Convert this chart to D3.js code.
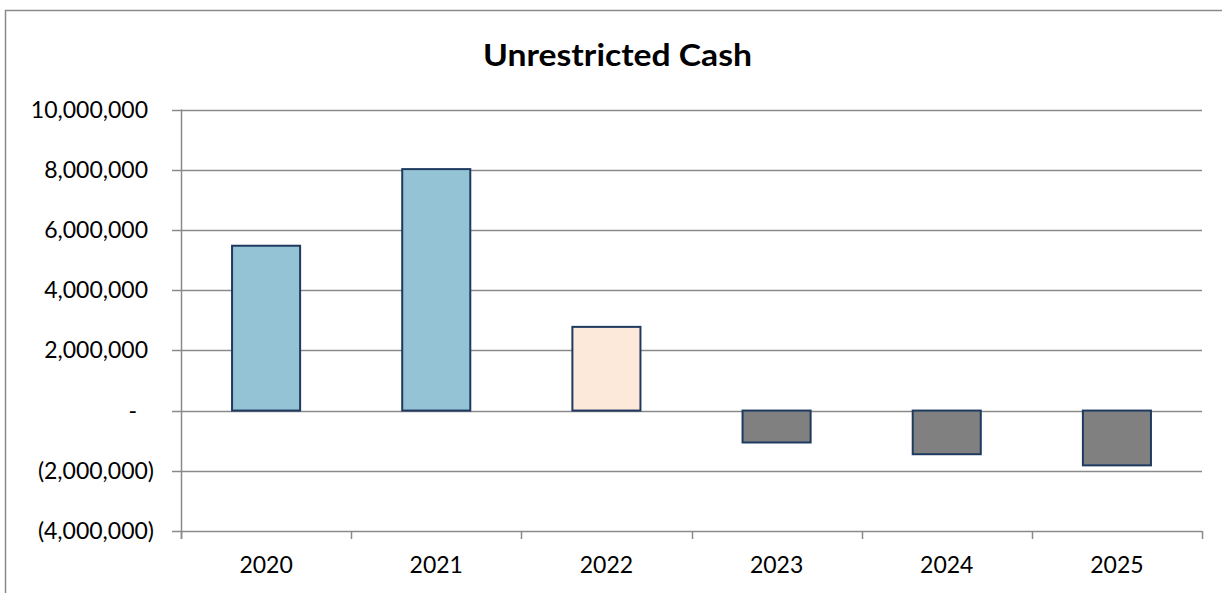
<!DOCTYPE html>
<html>
<head>
<meta charset="utf-8">
<script src="https://cdn.jsdelivr.net/npm/d3@7"></script>
<style>
  html, body { margin: 0; padding: 0; background: #fff; }
  svg { display: block; }
  text { font-family: Lato, "Open Sans", sans-serif; fill: #000; }
</style>
</head>
<body>
<svg id="chart" width="1222" height="593"></svg>
<script>
// Unrestricted cash by year
const years = ["2020", "2021", "2022", "2023", "2024", "2025"];
const cash = [5475000, 8020000, 2780000, -1060000, -1450000, -1820000];
const barColors = ["#93c3d4", "#93c3d4", "#fde9d9", "#808080", "#808080", "#808080"];
const yTicks = [-4000000, -2000000, 0, 2000000, 4000000, 6000000, 8000000, 10000000];

const svg = d3.select("#chart");
const plotLeft = 181, plotRight = 1202, plotTop = 109.5, plotBottom = 531;
const gridColor = "#8a8a8a";

// outer frame
svg.append("rect")
  .attr("x", 5.5).attr("y", 10.5)
  .attr("width", 1240).attr("height", 600)
  .attr("fill", "none").attr("stroke", "#8a8a8a").attr("stroke-width", 1.5);

// title
svg.append("text")
  .attr("x", 617.5).attr("y", 66)
  .attr("text-anchor", "middle")
  .attr("font-size", 31).attr("font-weight", "bold")
  .attr("textLength", 269).attr("lengthAdjust", "spacingAndGlyphs")
  .text("Unrestricted Cash");

const x = d3.scaleBand().domain(years).range([plotLeft, plotRight])
  .paddingInner(0.6).paddingOuter(0.3);
const y = d3.scaleLinear().domain([-4000000, 10000000]).range([plotBottom, plotTop]);

const fmt = d3.format(",");
function label(v) {
  if (v === 0) return "-";
  if (v < 0) return "(" + fmt(-v) + ")";
  return fmt(v);
}

// horizontal gridlines with short ticks on the left
svg.append("g").selectAll("line").data(yTicks).join("line")
  .attr("x1", plotLeft - 9).attr("x2", plotRight)
  .attr("y1", d => Math.round(y(d)) + 0.5).attr("y2", d => Math.round(y(d)) + 0.5)
  .attr("stroke", gridColor).attr("stroke-width", 1.5);

// y labels (positive values leave room for a closing paren)
svg.append("g").selectAll("text").data(yTicks).join("text")
  .attr("x", 154)
  .attr("dx", d => d === 0 ? -17 : (d > 0 ? -6 : 0))
  .attr("y", d => y(d) + 8)
  .attr("text-anchor", "end")
  .attr("font-size", 23)
  .text(label);

// vertical axis line
svg.append("line")
  .attr("x1", plotLeft + 0.5).attr("x2", plotLeft + 0.5)
  .attr("y1", plotTop).attr("y2", plotBottom + 8)
  .attr("stroke", gridColor).attr("stroke-width", 1.5);

// category boundary ticks
const bounds = d3.range(years.length + 1).map(i => plotLeft + i * x.step());
svg.append("g").selectAll("line").data(bounds).join("line")
  .attr("x1", d => Math.round(d) + 0.5).attr("x2", d => Math.round(d) + 0.5)
  .attr("y1", plotBottom).attr("y2", plotBottom + 8)
  .attr("stroke", gridColor).attr("stroke-width", 1.5);

// bars
svg.append("g").selectAll("rect").data(years).join("rect")
  .attr("x", d => x(d))
  .attr("width", x.bandwidth())
  .attr("y", (d, i) => y(Math.max(0, cash[i])))
  .attr("height", (d, i) => Math.abs(y(cash[i]) - y(0)))
  .attr("fill", (d, i) => barColors[i])
  .attr("stroke", "#1f3a60").attr("stroke-width", 2);

// x labels
svg.append("g").selectAll("text").data(years).join("text")
  .attr("x", d => x(d) + x.bandwidth() / 2)
  .attr("y", 573)
  .attr("text-anchor", "middle")
  .attr("font-size", 23)
  .text(d => d);
</script>
</body>
</html>
